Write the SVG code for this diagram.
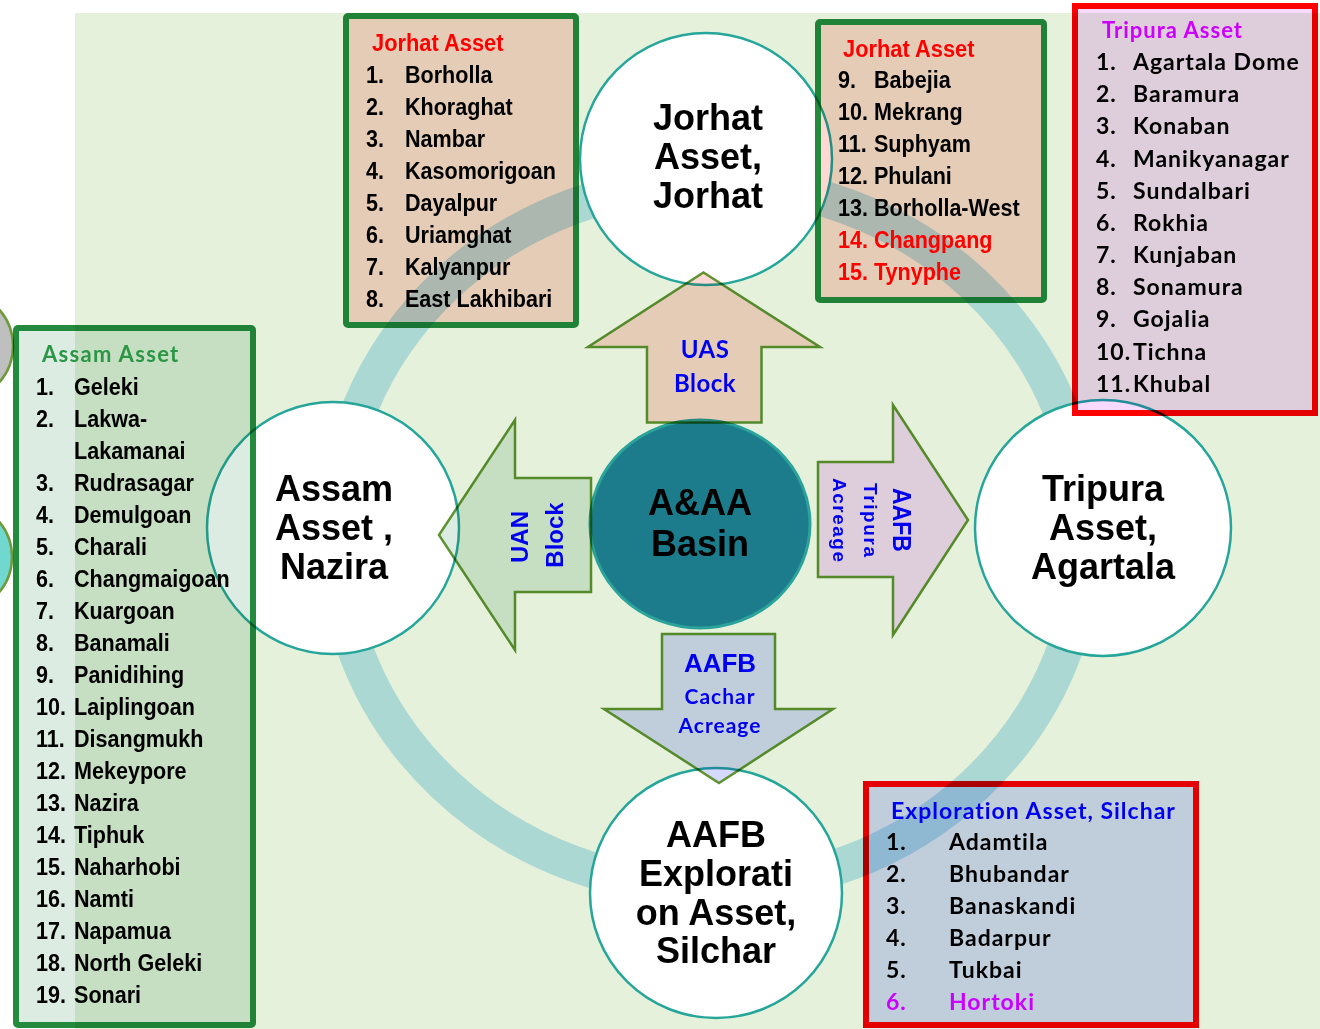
<svg xmlns="http://www.w3.org/2000/svg" width="1320" height="1029" viewBox="0 0 1320 1029">
<style>
.mul{mix-blend-mode:multiply}
.lst{font-family:"Liberation Sans",Arial,sans-serif;font-weight:bold;font-size:24.5px;fill:#000}
.cal{font-family:Lato,"Open Sans",sans-serif;font-weight:bold;font-size:23px;letter-spacing:1px;fill:#000}
.big{font-family:"Liberation Sans",Arial,sans-serif;font-weight:bold;font-size:36px;text-anchor:middle;fill:#000}
.node{fill:#fff;stroke:#26A69A;stroke-width:2.5}
.bg3{stroke:#238A3E;stroke-width:6}
.br{stroke:#FF0000;stroke-width:6}
.arr{stroke:#5E9232;stroke-width:2.5;stroke-linejoin:miter}
.blue{fill:#0000F0}
.ttl{font-family:"Liberation Sans",Arial,sans-serif;font-weight:bold;font-size:24px;fill:#FF0000}
.red{fill:#FF0000}
</style>
<rect x="0" y="0" width="1320" height="1029" fill="#fff"/>
<rect x="75" y="13" width="1245" height="1016" fill="#E5F1DB"/>

<g id="edge-circles">
<circle cx="-42" cy="346" r="55" fill="#BFBFBF" stroke="#6E9A3A" stroke-width="2.5"/>
<circle cx="-43" cy="557" r="55" fill="#70D8CF" stroke="#6E9A3A" stroke-width="2.5"/>
</g>

<g id="ring">
<ellipse cx="710" cy="535" rx="375" ry="353" fill="none" stroke="#ABD8D3" stroke-width="36"/>
</g>

<g id="node-assam">
<circle class="node" cx="333" cy="528" r="126"/>
<text class="big" x="334" y="501">Assam</text>
<text class="big" x="334" y="540">Asset ,</text>
<text class="big" x="334" y="579">Nazira</text>
</g>
<g id="node-jorhat">
<circle class="node" cx="706" cy="159" r="126"/>
<text class="big" x="708" y="130">Jorhat</text>
<text class="big" x="708" y="169">Asset,</text>
<text class="big" x="708" y="208">Jorhat</text>
</g>
<g id="node-tripura">
<circle class="node" cx="1103" cy="528" r="128"/>
<text class="big" x="1103" y="501">Tripura</text>
<text class="big" x="1103" y="540">Asset,</text>
<text class="big" x="1103" y="579">Agartala</text>
</g>
<g id="node-aafb">
<ellipse class="node" cx="716" cy="893" rx="126" ry="125"/>
<text class="big" x="716" y="847">AAFB</text>
<text class="big" x="716" y="886">Explorati</text>
<text class="big" x="716" y="925">on Asset,</text>
<text class="big" x="716" y="963">Silchar</text>
</g>
<g id="node-basin">
<ellipse cx="700" cy="524" rx="110" ry="104" fill="#1D7C8C" stroke="#2AA39A" stroke-width="3"/>
<text class="big" x="700" y="515">A&amp;AA</text>
<text class="big" x="700" y="556">Basin</text>
</g>

<g id="box-assam">
<rect class="mul bg3" x="16" y="328" width="237" height="697" rx="2" fill="#DDECE2"/>
<text x="42" y="362" style="font-family:Lato,'Open Sans',sans-serif;font-weight:bold;font-size:22px;letter-spacing:1.3px;fill:#2A9646">Assam Asset</text>
<g transform="translate(36,0) scale(0.88,1)">
<text class="lst" y="395"><tspan x="0">1.</tspan><tspan x="43.2">Geleki</tspan></text>
<text class="lst" y="427"><tspan x="0">2.</tspan><tspan x="43.2">Lakwa-</tspan></text>
<text class="lst" y="459"><tspan x="43.2">Lakamanai</tspan></text>
<text class="lst" y="491"><tspan x="0">3.</tspan><tspan x="43.2">Rudrasagar</tspan></text>
<text class="lst" y="523"><tspan x="0">4.</tspan><tspan x="43.2">Demulgoan</tspan></text>
<text class="lst" y="555"><tspan x="0">5.</tspan><tspan x="43.2">Charali</tspan></text>
<text class="lst" y="587"><tspan x="0">6.</tspan><tspan x="43.2">Changmaigoan</tspan></text>
<text class="lst" y="619"><tspan x="0">7.</tspan><tspan x="43.2">Kuargoan</tspan></text>
<text class="lst" y="651"><tspan x="0">8.</tspan><tspan x="43.2">Banamali</tspan></text>
<text class="lst" y="683"><tspan x="0">9.</tspan><tspan x="43.2">Panidihing</tspan></text>
<text class="lst" y="715"><tspan x="0">10.</tspan><tspan x="43.2">Laiplingoan</tspan></text>
<text class="lst" y="747"><tspan x="0">11.</tspan><tspan x="43.2">Disangmukh</tspan></text>
<text class="lst" y="779"><tspan x="0">12.</tspan><tspan x="43.2">Mekeypore</tspan></text>
<text class="lst" y="811"><tspan x="0">13.</tspan><tspan x="43.2">Nazira</tspan></text>
<text class="lst" y="843"><tspan x="0">14.</tspan><tspan x="43.2">Tiphuk</tspan></text>
<text class="lst" y="875"><tspan x="0">15.</tspan><tspan x="43.2">Naharhobi</tspan></text>
<text class="lst" y="907"><tspan x="0">16.</tspan><tspan x="43.2">Namti</tspan></text>
<text class="lst" y="939"><tspan x="0">17.</tspan><tspan x="43.2">Napamua</tspan></text>
<text class="lst" y="971"><tspan x="0">18.</tspan><tspan x="43.2">North Geleki</tspan></text>
<text class="lst" y="1003"><tspan x="0">19.</tspan><tspan x="43.2">Sonari</tspan></text>
</g>
</g>

<g id="box-jorhat-1">
<rect class="mul bg3" x="346" y="16" width="230" height="309" rx="2" fill="#FFD8D4"/>
<text class="ttl" transform="translate(372,51) scale(0.91,1)">Jorhat Asset</text>
<g transform="translate(366,0) scale(0.88,1)">
<text class="lst" y="83"><tspan x="0">1.</tspan><tspan x="44.3">Borholla</tspan></text>
<text class="lst" y="115"><tspan x="0">2.</tspan><tspan x="44.3">Khoraghat</tspan></text>
<text class="lst" y="147"><tspan x="0">3.</tspan><tspan x="44.3">Nambar</tspan></text>
<text class="lst" y="179"><tspan x="0">4.</tspan><tspan x="44.3">Kasomorigoan</tspan></text>
<text class="lst" y="211"><tspan x="0">5.</tspan><tspan x="44.3">Dayalpur</tspan></text>
<text class="lst" y="243"><tspan x="0">6.</tspan><tspan x="44.3">Uriamghat</tspan></text>
<text class="lst" y="275"><tspan x="0">7.</tspan><tspan x="44.3">Kalyanpur</tspan></text>
<text class="lst" y="307"><tspan x="0">8.</tspan><tspan x="44.3">East Lakhibari</tspan></text>
</g>
</g>

<g id="box-jorhat-2">
<rect class="mul bg3" x="818" y="22" width="226" height="278" rx="2" fill="#FFD8D4"/>
<text class="ttl" transform="translate(843,57) scale(0.91,1)">Jorhat Asset</text>
<g transform="translate(838,0) scale(0.88,1)">
<text class="lst" y="88"><tspan x="0">9.</tspan><tspan x="40.9">Babejia</tspan></text>
<text class="lst" y="120"><tspan x="0">10.</tspan><tspan x="40.9">Mekrang</tspan></text>
<text class="lst" y="152"><tspan x="0">11.</tspan><tspan x="40.9">Suphyam</tspan></text>
<text class="lst" y="184"><tspan x="0">12.</tspan><tspan x="40.9">Phulani</tspan></text>
<text class="lst" y="216"><tspan x="0">13.</tspan><tspan x="40.9">Borholla-West</tspan></text>
<text class="lst red" y="248"><tspan x="0">14.</tspan><tspan x="40.9">Changpang</tspan></text>
<text class="lst red" y="280"><tspan x="0">15.</tspan><tspan x="40.9">Tynyphe</tspan></text>
</g>
</g>

<g id="box-tripura">
<rect class="mul br" x="1075" y="6" width="240" height="407" fill="#F8D9FF"/>
<text class="cal" x="1102" y="38" style="font-size:22px;fill:#CC00FF">Tripura Asset</text>
<text class="cal" y="70"><tspan x="1096">1.</tspan><tspan x="1133">Agartala Dome</tspan></text>
<text class="cal" y="102"><tspan x="1096">2.</tspan><tspan x="1133">Baramura</tspan></text>
<text class="cal" y="134"><tspan x="1096">3.</tspan><tspan x="1133">Konaban</tspan></text>
<text class="cal" y="167"><tspan x="1096">4.</tspan><tspan x="1133">Manikyanagar</tspan></text>
<text class="cal" y="199"><tspan x="1096">5.</tspan><tspan x="1133">Sundalbari</tspan></text>
<text class="cal" y="231"><tspan x="1096">6.</tspan><tspan x="1133">Rokhia</tspan></text>
<text class="cal" y="263"><tspan x="1096">7.</tspan><tspan x="1133">Kunjaban</tspan></text>
<text class="cal" y="295"><tspan x="1096">8.</tspan><tspan x="1133">Sonamura</tspan></text>
<text class="cal" y="327"><tspan x="1096">9.</tspan><tspan x="1133">Gojalia</tspan></text>
<text class="cal" y="360"><tspan x="1096">10.</tspan><tspan x="1133">Tichna</tspan></text>
<text class="cal" y="392"><tspan x="1096">11.</tspan><tspan x="1133">Khubal</tspan></text>
</g>

<g id="box-silchar">
<rect class="mul br" x="866" y="784" width="330" height="241" fill="#D6D9FF"/>
<text class="cal blue" x="891" y="819">Exploration Asset, Silchar</text>
<text class="cal" y="850"><tspan x="886">1.</tspan><tspan x="949">Adamtila</tspan></text>
<text class="cal" y="882"><tspan x="886">2.</tspan><tspan x="949">Bhubandar</tspan></text>
<text class="cal" y="914"><tspan x="886">3.</tspan><tspan x="949">Banaskandi</tspan></text>
<text class="cal" y="946"><tspan x="886">4.</tspan><tspan x="949">Badarpur</tspan></text>
<text class="cal" y="978"><tspan x="886">5.</tspan><tspan x="949">Tukbai</tspan></text>
<text class="cal" y="1010" style="fill:#CC00FF"><tspan x="886">6.</tspan><tspan x="949">Hortoki</tspan></text>
</g>

<g id="connectors">
<g id="arrow-uas">
<polygon class="mul arr" points="703.5,272.5 820,347 761.5,347 761.5,422.5 647,422.5 647,347 588,347" fill="#FFD8D4"/>
<text class="cal blue" x="705" y="358" text-anchor="middle" style="font-size:24px;letter-spacing:0.5px">UAS</text>
<text class="cal blue" x="705" y="392" text-anchor="middle" style="font-size:24px;letter-spacing:0.5px">Block</text>
</g>
<g id="arrow-uan">
<polygon class="mul arr" points="439,535 515,420 515,478 591,478 591,592 515,592 515,650" fill="#DDECE2"/>
<text class="blue" transform="translate(528,537) rotate(-90)" text-anchor="middle" style="font-family:'Liberation Sans',Arial,sans-serif;font-weight:bold;font-size:24px">UAN</text>
<text class="blue" transform="translate(563,535) rotate(-90)" text-anchor="middle" style="font-family:'Liberation Sans',Arial,sans-serif;font-weight:bold;font-size:24px">Block</text>
</g>
<g id="arrow-tripura">
<polygon class="mul arr" points="818,462 893,462 893,405 968,520 893,635 893,577 818,577" fill="#F8D9FF"/>
<text class="blue" transform="translate(893,520) rotate(90)" text-anchor="middle" style="font-family:'Liberation Sans',Arial,sans-serif;font-weight:bold;font-size:25px" textLength="64" lengthAdjust="spacingAndGlyphs">AAFB</text>
<text class="blue" transform="translate(864,520) rotate(90)" text-anchor="middle" style="font-family:'Liberation Sans',Arial,sans-serif;font-weight:bold;font-size:19px" textLength="74" lengthAdjust="spacing">Tripura</text>
<text class="blue" transform="translate(833,520) rotate(90)" text-anchor="middle" style="font-family:'Liberation Sans',Arial,sans-serif;font-weight:bold;font-size:19px" textLength="84" lengthAdjust="spacing">Acreage</text>
</g>
<g id="arrow-cachar">
<polygon class="mul arr" points="662,634 775,634 775,709 833,709 719,783 604,709 662,709" fill="#D6D9FF"/>
<text class="blue" x="720" y="672" text-anchor="middle" style="font-family:'Liberation Sans',Arial,sans-serif;font-weight:bold;font-size:26px">AAFB</text>
<text class="cal blue" x="720" y="704" text-anchor="middle" style="font-size:21px">Cachar</text>
<text class="cal blue" x="720" y="733" text-anchor="middle" style="font-size:21px">Acreage</text>
</g>
</g>
</svg>
